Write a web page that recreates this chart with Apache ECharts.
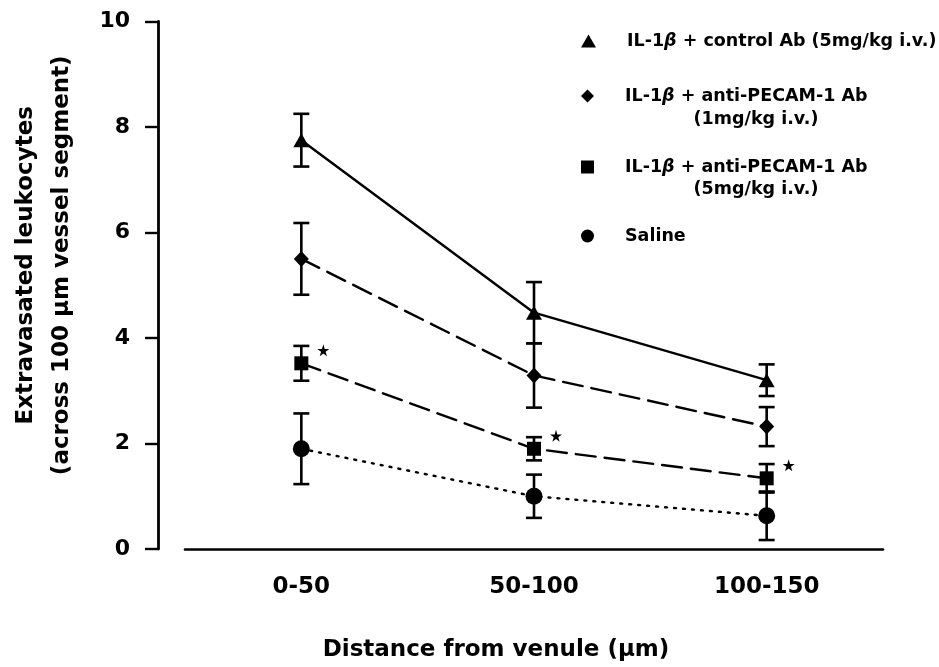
<!DOCTYPE html>
<html><head><meta charset="utf-8">
<script src="https://cdn.jsdelivr.net/npm/echarts@6/dist/echarts.min.js"></script>
<style>html,body{margin:0;padding:0;background:#fff}#c{width:939px;height:667px}</style>
</head><body><div id="c"></div>
<script>
const categories = ['0-50', '50-100', '100-150'];
const seriesNames = ['IL-1β + control Ab (5mg/kg i.v.)', 'IL-1β + anti-PECAM-1 Ab (1mg/kg i.v.)', 'IL-1β + anti-PECAM-1 Ab (5mg/kg i.v.)', 'Saline'];
const legendLine1 = ['IL-1β + control Ab (5mg/kg i.v.)', 'IL-1β + anti-PECAM-1 Ab', 'IL-1β + anti-PECAM-1 Ab', 'Saline'];
const legendLine2 = ['', '(1mg/kg i.v.)', '(5mg/kg i.v.)', ''];
const controlMean = [7.75, 4.48, 3.2];
const controlErr = [0.5, 0.58, 0.3];
const pecam1Mean = [5.5, 3.29, 2.32];
const pecam1Err = [0.68, 0.61, 0.37];
const pecam5Mean = [3.52, 1.9, 1.34];
const pecam5Err = [0.33, 0.22, 0.27];
const salineMean = [1.9, 1.0, 0.63];
const salineErr = [0.67, 0.41, 0.46];
const starred = [true, true, true];
const yMin = 0, yMax = 10, yStep = 2;
const xTitle = 'Distance from venule (μm)';
const yTitle = 'Extravasated leukocytes\n(across 100 μm vessel segment)';

const FONT = 'DejaVu Sans';
const means = [controlMean, pecam1Mean, pecam5Mean, salineMean];
const errs = [controlErr, pecam1Err, pecam5Err, salineErr];
const symbols = ['triangle', 'diamond', 'rect', 'circle'];
const symSizes = [[16, 14], [15, 16], [14, 14], 17];
const lineTypes = ['solid', [20, 9], [20, 9], [2, 7]];
const legendIcons = ['triangle', 'diamond', 'rect', 'circle'];
const legendTops = [27, 82, 153, 222];
const starPath = 'path://M50,0 L61,35 L98,35 L68,57 L79,91 L50,70 L21,91 L32,57 L2,35 L39,35 Z';

const chart = echarts.init(document.getElementById('c'));
const series = [];
means.forEach((m, k) => {
  series.push({
    type: 'custom', name: seriesNames[k] + ' err', silent: true, z: 3,
    data: m.map((v, i) => [i, v - errs[k][i], v + errs[k][i]]),
    renderItem: (params, api) => {
      const lo = api.coord([api.value(0), api.value(1)]);
      const hi = api.coord([api.value(0), api.value(2)]);
      const hw = 8;
      const st = { stroke: '#000', lineWidth: 2.6 };
      return { type: 'group', children: [
        { type: 'line', shape: { x1: lo[0], y1: lo[1], x2: hi[0], y2: hi[1] }, style: st },
        { type: 'line', shape: { x1: lo[0] - hw, y1: lo[1], x2: lo[0] + hw, y2: lo[1] }, style: st },
        { type: 'line', shape: { x1: hi[0] - hw, y1: hi[1], x2: hi[0] + hw, y2: hi[1] }, style: st }
      ]};
    }
  });
  series.push({
    type: 'line', name: seriesNames[k], data: m, z: 4,
    symbol: symbols[k], symbolSize: symSizes[k], showSymbol: true,
    itemStyle: { color: '#000' },
    lineStyle: { color: '#000', width: 2.4, type: lineTypes[k], cap: 'round' },
    emphasis: { disabled: true }, animation: false
  });
});
series.push({
  type: 'scatter', name: 'sig', silent: true, z: 5,
  data: pecam5Mean.map((v, i) => starred[i] ? [i, v] : null).filter(d => d),
  symbol: starPath, symbolSize: 12, symbolOffset: [22, -13],
  itemStyle: { color: '#000', opacity: 1 }
});

const legendText = { fontFamily: FONT, fontSize: 17.5, fontWeight: 'bold', color: '#000', lineHeight: 16 };
const legends = seriesNames.map((n, k) => ({
  data: [{ name: n, icon: legendIcons[k] }],
  left: 576, top: legendTops[k], orient: 'vertical',
  itemWidth: k === 0 ? 15 : 13, itemHeight: 13, selectedMode: false,
  itemStyle: { color: '#000' },
  formatter: () => {
    const t = legendLine1[k].split('β');
    return t.length > 1 ? t[0] + '{i|β}' + t[1] : legendLine1[k];
  },
  textStyle: Object.assign({}, legendText, {
    padding: [0, 0, 0, 26],
    rich: { i: Object.assign({}, legendText, { fontStyle: 'italic' }) }
  })
}));

const graphics = [];
legendLine2.forEach((t, k) => {
  if (!t) return;
  graphics.push({
    type: 'text', x: 756, y: k === 1 ? 119 : 189,
    style: { text: t, fontFamily: FONT, fontSize: 17.5, fontWeight: 'bold', fill: '#000', align: 'center', verticalAlign: 'middle' }
  });
});

chart.setOption({
  animation: false,
  backgroundColor: '#fff',
  grid: { left: 180, right: 56, top: 21.5, bottom: 108, containLabel: false },
  legend: legends,
  graphic: graphics,
  xAxis: {
    type: 'category', data: categories, boundaryGap: true,
    name: xTitle, nameLocation: 'middle', nameGap: 90,
    nameTextStyle: { fontFamily: FONT, fontSize: 23, fontWeight: 'bold', color: '#000', padding: [0, 76, 0, 0] },
    axisLine: { lineStyle: { color: '#000', width: 2.6 } },
    axisTick: { show: false },
    axisLabel: { fontFamily: FONT, fontSize: 23, fontWeight: 'bold', color: '#000', margin: 27 },
    splitLine: { show: false }
  },
  yAxis: {
    type: 'value', min: yMin, max: yMax, interval: yStep, offset: 27,
    name: yTitle, nameLocation: 'middle', nameGap: 78, nameRotate: 90,
    nameTextStyle: { fontFamily: FONT, fontSize: 23, fontWeight: 'bold', color: '#000', lineHeight: 36, padding: [0, 0, 0, 40] },
    axisLine: { show: true, lineStyle: { color: '#000', width: 2.8 } },
    axisTick: { show: true, inside: false, length: 13, lineStyle: { color: '#000', width: 2.4 } },
    axisLabel: { fontFamily: FONT, fontSize: 22, fontWeight: 'bold', color: '#000', margin: 28 },
    splitLine: { show: false }
  },
  series: series
});
</script>
</body></html>
